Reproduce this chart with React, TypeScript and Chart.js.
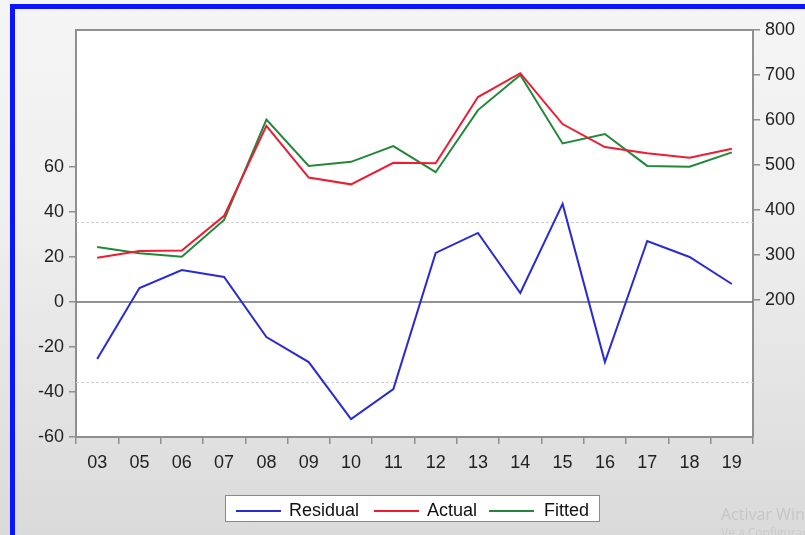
import React, { useEffect, useRef } from "react";
import { Chart, registerables } from "chart.js";

Chart.register(...registerables);

const categories = ["03", "05", "06", "07", "08", "09", "10", "11", "12", "13", "14", "15", "16", "17", "18", "19"];
const residual = [-25.3, 6.2, 14.2, 11.1, -15.6, -26.7, -52, -38.7, 21.8, 30.7, 4, 43.6, -26.7, 27.1, 20, 8];
const actual = [294, 309, 310, 387, 587, 472, 457, 505, 504, 651, 704, 591, 540, 526, 516, 536];
const fitted = [318, 304, 296, 378, 601, 498, 507, 542, 484, 622, 700, 548, 569, 498, 496, 528];
const leftTicks = [-60, -40, -20, 0, 20, 40, 60];
const rightTicks = [200, 300, 400, 500, 600, 700, 800];
const leftRange = [-60, 120.9];
const rightRange = [-104.4, 800];
const zeroLevel = 0;
const seLevels = [35.5, -35.5];

const FONT = "'Liberation Sans', Arial, sans-serif";

const refLinesPlugin = {
  id: "refLines",
  beforeDraw(chart: any) {
    const { ctx, chartArea } = chart;
    ctx.save();
    ctx.fillStyle = "#ffffff";
    ctx.fillRect(chartArea.left, chartArea.top, chartArea.right - chartArea.left, chartArea.bottom - chartArea.top);
    ctx.restore();
  },
  beforeDatasetsDraw(chart: any) {
    const { ctx, chartArea, scales } = chart;
    const y = scales.yL;
    ctx.save();
    ctx.lineWidth = 1;
    ctx.strokeStyle = "#cfcfcf";
    ctx.setLineDash([3, 2]);
    for (const v of seLevels) {
      const py = Math.round(y.getPixelForValue(v)) + 0.5;
      ctx.beginPath();
      ctx.moveTo(chartArea.left, py);
      ctx.lineTo(chartArea.right, py);
      ctx.stroke();
    }
    ctx.setLineDash([]);
    ctx.strokeStyle = "#6e6e6e";
    ctx.lineWidth = 1.5;
    const pz = y.getPixelForValue(zeroLevel);
    ctx.beginPath();
    ctx.moveTo(chartArea.left, pz);
    ctx.lineTo(chartArea.right, pz);
    ctx.stroke();
    ctx.restore();
  },
  afterDraw(chart: any) {
    const { ctx, chartArea } = chart;
    ctx.save();
    ctx.strokeStyle = "#8f8f8f";
    ctx.lineWidth = 2;
    ctx.beginPath();
    ctx.moveTo(chartArea.left, chartArea.top);
    ctx.lineTo(chartArea.right, chartArea.top);
    ctx.stroke();
    ctx.restore();
  },
};

export default function App() {
  const canvasRef = useRef<HTMLCanvasElement | null>(null);

  useEffect(() => {
    if (!canvasRef.current) return;
    const tickFont = { family: FONT, size: 18 };
    const chart = new Chart(canvasRef.current, {
      type: "line",
      data: {
        labels: categories,
        datasets: [
          { label: "Residual", data: residual, yAxisID: "yL", borderColor: "#2a2ad2", borderWidth: 2, pointRadius: 0, tension: 0 },
          { label: "Actual", data: actual, yAxisID: "yR", borderColor: "#ec1c34", borderWidth: 2, pointRadius: 0, tension: 0 },
          { label: "Fitted", data: fitted, yAxisID: "yR", borderColor: "#23873a", borderWidth: 2, pointRadius: 0, tension: 0 },
        ],
      },
      options: {
        responsive: false,
        animation: false,
        devicePixelRatio: 1,
        layout: { padding: { top: 30, left: 0, right: 0, bottom: 0 } },
        plugins: { legend: { display: false }, tooltip: { enabled: false } },
        scales: {
          x: {
            type: "category",
            offset: true,
            grid: { offset: true, drawOnChartArea: false, drawTicks: true, tickLength: 7, color: "#8f8f8f", lineWidth: 1.5 },
            border: { display: true, color: "#8f8f8f", width: 2 },
            ticks: { font: tickFont, color: "#222", padding: 8, maxRotation: 0, autoSkip: false },
            afterFit: (s: any) => { s.height = 98; },
          },
          yL: {
            type: "linear",
            position: "left",
            min: leftRange[0],
            max: leftRange[1],
            afterBuildTicks: (s: any) => { s.ticks = leftTicks.map((v) => ({ value: v })); },
            grid: { drawOnChartArea: false, drawTicks: true, tickLength: 7, color: "#8f8f8f", lineWidth: 1.5 },
            border: { display: true, color: "#8f8f8f", width: 2 },
            ticks: { font: tickFont, color: "#222", padding: 5 },
            afterFit: (s: any) => { s.width = 76; },
          },
          yR: {
            type: "linear",
            position: "right",
            min: rightRange[0],
            max: rightRange[1],
            afterBuildTicks: (s: any) => { s.ticks = rightTicks.map((v) => ({ value: v })); },
            grid: { drawOnChartArea: false, drawTicks: true, tickLength: 7, color: "#8f8f8f", lineWidth: 1.5 },
            border: { display: true, color: "#8f8f8f", width: 2 },
            ticks: { font: tickFont, color: "#222", padding: 5 },
            afterFit: (s: any) => { s.width = 52; },
          },
        },
      },
      plugins: [refLinesPlugin],
    } as any);
    return () => chart.destroy();
  }, []);

  const legendItems = [
    { label: "Residual", color: "#2a2ad2", lineX: 10, textX: 63 },
    { label: "Actual", color: "#ec1c34", lineX: 148, textX: 201 },
    { label: "Fitted", color: "#23873a", lineX: 263, textX: 318 },
  ];

  return (
    <div
      style={{
        position: "absolute",
        left: 0,
        top: 0,
        width: 805,
        height: 535,
        overflow: "hidden",
        background: "linear-gradient(#f5f5f5, #efefef 40%, #dadada)",
        fontFamily: FONT,
      }}
    >
      <canvas ref={canvasRef} width={805} height={535} style={{ position: "absolute", left: 0, top: 0, width: 805, height: 535 }} />
      <div style={{ position: "absolute", left: 10, top: 4, width: 795, height: 5, background: "#0a14ff" }} />
      <div style={{ position: "absolute", left: 10, top: 4, width: 5, height: 531, background: "#0a14ff" }} />
      <div
        style={{
          position: "absolute",
          left: 225,
          top: 495,
          width: 373,
          height: 25,
          background: "#fff",
          border: "1.5px solid #8a8a8a",
        }}
      >
        {legendItems.map((it) => (
          <React.Fragment key={it.label}>
            <div style={{ position: "absolute", left: it.lineX, top: 14, width: 45, height: 1.5, background: it.color }} />
            <div style={{ position: "absolute", left: it.textX, top: 4, fontSize: 18, lineHeight: "20px", color: "#111", whiteSpace: "nowrap" }}>
              {it.label}
            </div>
          </React.Fragment>
        ))}
      </div>
      <div style={{ position: "absolute", left: 721, top: 503, fontSize: 16, color: "#c6c6c6", whiteSpace: "nowrap", fontFamily: "'Open Sans', sans-serif" }}>
        Activar Windows
      </div>
      <div style={{ position: "absolute", left: 721, top: 524, fontSize: 12, color: "#cacaca", whiteSpace: "nowrap", fontFamily: "'Open Sans', sans-serif" }}>
        Ve a Configuración para activar Windows.
      </div>
    </div>
  );
}
